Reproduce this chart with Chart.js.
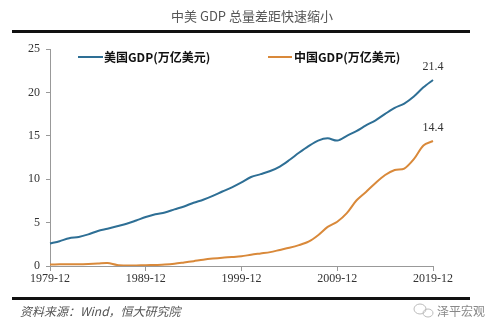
<!DOCTYPE html>
<html>
<head>
<meta charset="utf-8">
<script src="https://cdn.jsdelivr.net/npm/chart.js@4.4.1/dist/chart.umd.min.js"></script>
<style>
  html, body { margin: 0; padding: 0; background: #fff; }
  #wrap { position: relative; width: 500px; height: 331px; }
</style>
</head>
<body>
<div id="wrap"><canvas id="gdpChart" width="500" height="331"></canvas></div>
<script>
// data (trillion USD)
const years = [];
for (let y = 1979; y <= 2019; y++) years.push(y + '-12');

const usGdp = [2.6, 2.86, 3.2, 3.34, 3.64, 4.04, 4.3, 4.58, 4.86, 5.24,
  5.64, 5.96, 6.16, 6.52, 6.86, 7.29, 7.64, 8.07, 8.58, 9.06,
  9.63, 10.25, 10.58, 10.94, 11.46, 12.21, 13.04, 13.81, 14.45, 14.71,
  14.45, 15.0, 15.54, 16.2, 16.78, 17.52, 18.22, 18.71, 19.52, 20.58, 21.43];

const cnGdp = [0.18, 0.19, 0.2, 0.2, 0.23, 0.28, 0.35, 0.12, 0.06, 0.07,
  0.09, 0.12, 0.16, 0.25, 0.4, 0.56, 0.73, 0.86, 0.96, 1.03,
  1.12, 1.3, 1.45, 1.6, 1.85, 2.1, 2.4, 2.8, 3.55, 4.5,
  5.1, 6.09, 7.55, 8.53, 9.57, 10.48, 11.06, 11.23, 12.31, 13.89, 14.4];

const yTicks = [0, 5, 10, 15, 20, 25];
const xTickEvery = 10;

const usColor = '#2e6f95';
const cnColor = '#d9893a';
const serif = '"Liberation Serif", "DejaVu Serif", serif';
const cjk = '"Noto Sans CJK SC", sans-serif';

// title, rules, legend, end labels, footer
const decor = {
  id: 'decor',
  afterDraw(chart) {
    const ctx = chart.ctx;
    ctx.save();
    ctx.fillStyle = '#555';
    ctx.font = '13px ' + cjk;
    ctx.textAlign = 'center';
    ctx.textBaseline = 'middle';
    ctx.fillText('中美 GDP 总量差距快速缩小', 252, 16);

    ctx.fillStyle = '#111';
    ctx.fillRect(12, 30, 458, 3);
    ctx.fillRect(12, 297, 458, 3);

    // legend
    ctx.lineWidth = 2;
    ctx.strokeStyle = usColor;
    ctx.beginPath(); ctx.moveTo(78, 57); ctx.lineTo(103, 57); ctx.stroke();
    ctx.strokeStyle = cnColor;
    ctx.beginPath(); ctx.moveTo(268, 57); ctx.lineTo(292, 57); ctx.stroke();
    ctx.fillStyle = '#111';
    ctx.textAlign = 'left';
    ctx.font = 'bold 12px ' + cjk;
    ctx.fillText('美国GDP(万亿美元)', 104, 57);
    ctx.fillText('中国GDP(万亿美元)', 294, 57);

    // end values
    const x = chart.scales.x;
    const y = chart.scales.y;
    const last = years.length - 1;
    ctx.font = '12px ' + serif;
    ctx.fillStyle = '#333';
    ctx.textAlign = 'center';
    ctx.fillText(usGdp[last].toFixed(1), x.getPixelForValue(last), y.getPixelForValue(usGdp[last]) - 13);
    ctx.fillText(cnGdp[last].toFixed(1), x.getPixelForValue(last), y.getPixelForValue(cnGdp[last]) - 13);

    // footer
    ctx.textAlign = 'left';
    ctx.fillStyle = '#555';
    ctx.font = 'italic 12px ' + cjk;
    ctx.fillText('资料来源：Wind，恒大研究院', 20, 311);
    ctx.font = '12px ' + cjk;
    ctx.fillStyle = '#888';
    ctx.fillText('泽平宏观', 437, 311);
    ctx.strokeStyle = '#bbb';
    ctx.lineWidth = 1;
    ctx.beginPath(); ctx.ellipse(420, 309, 6, 5, 0, 0, Math.PI * 2); ctx.stroke();
    ctx.beginPath(); ctx.ellipse(428, 313, 5, 4, 0, 0, Math.PI * 2); ctx.stroke();
    ctx.restore();
  }
};

new Chart(document.getElementById('gdpChart'), {
  type: 'line',
  data: {
    labels: years,
    datasets: [
      { label: '美国GDP(万亿美元)', data: usGdp, borderColor: usColor, borderWidth: 2, pointRadius: 0, tension: 0.3 },
      { label: '中国GDP(万亿美元)', data: cnGdp, borderColor: cnColor, borderWidth: 2, pointRadius: 0, tension: 0.3 }
    ]
  },
  options: {
    responsive: false,
    animation: false,
    layout: { padding: { top: 49, right: 67, bottom: 45, left: 0 } },
    plugins: { legend: { display: false }, tooltip: { enabled: false } },
    scales: {
      x: {
        offset: false,
        afterBuildTicks(scale) {
          scale.ticks = scale.ticks.filter(t => t.value % xTickEvery === 0);
        },
        afterFit(scale) { scale.height = 20; },
        grid: { drawOnChartArea: false, tickLength: 5, color: '#999' },
        border: { color: '#999' },
        ticks: {
          autoSkip: false, maxRotation: 0, padding: 1,
          color: '#333', font: { family: serif, size: 12 },
          callback(v) { return years[v]; }
        }
      },
      y: {
        min: 0, max: 25,
        afterBuildTicks(scale) { scale.ticks = yTicks.map(v => ({ value: v })); },
        afterFit(scale) { scale.width = 50; },
        grid: { drawOnChartArea: false, tickLength: 4, color: '#999' },
        border: { color: '#999' },
        ticks: { padding: 6, color: '#333', font: { family: serif, size: 12 } }
      }
    }
  },
  plugins: [decor]
});
</script>
</body>
</html>
